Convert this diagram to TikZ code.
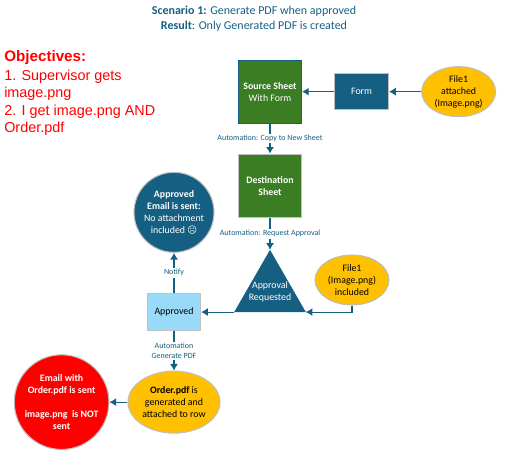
\documentclass[tikz,border=0pt]{standalone}
\usepackage{fontspec}
\setmainfont{Carlito}
\newfontfamily\arialfont{Liberation Sans}
\newfontfamily\symfont{DejaVu Sans}
\usetikzlibrary{arrows.meta,positioning,shapes.geometric}
\definecolor{navy}{HTML}{156082}
\definecolor{leaf}{HTML}{3B7D23}
\definecolor{sky}{HTML}{99DAF8}
\definecolor{amber}{HTML}{FFC000}
\definecolor{alert}{HTML}{FF0000}
\definecolor{edge}{HTML}{BFBFBF}
\tikzset{
  base/.style={draw=edge,line width=.8pt,align=center,inner sep=0pt,font=\fontsize{7.4}{9}\selectfont},
  sheet/.style={base,fill=leaf,text=white,minimum width=47.25pt,minimum height=47.25pt,font=\fontsize{7.4}{9}\selectfont\bfseries},
  bluebox/.style={base,fill=navy,text=white,minimum width=40.5pt,minimum height=27pt},
  skybox/.style={base,fill=sky,text=black,minimum width=40pt,minimum height=28pt},
  file/.style={base,ellipse,fill=amber,text=black,minimum width=55.5pt,minimum height=37.5pt},
  round/.style={base,circle,text=white},
  arr/.style={-{Latex[length=5pt,width=6pt]},line width=.8pt,color=navy},
  tag/.style={fill=white,text=navy,inner sep=1pt,align=center,font=\fontsize{6}{7.5}\selectfont}
}

\begin{document}
\begin{tikzpicture}
  \useasboundingbox (0,0) rectangle (383.25pt,-352.5pt);
  \node[text=navy,align=center,font=\fontsize{9}{11.25}\selectfont] (title) at (190.5pt,-14pt)
    {\textbf{Scenario 1:} Generate PDF when approved\\\textbf{Result}: Only Generated PDF is created};
  \node[text=alert,align=left,anchor=north west,inner sep=0pt,font=\arialfont\fontsize{10.8}{12.9}\selectfont] (goals) at (3pt,-38pt)
    {{\fontsize{11.4}{12.9}\selectfont\textbf{Objectives:}}\\[1.2pt]1. Supervisor gets\\image.png\\2. I get image.png AND\\Order.pdf};
  % top row
  \node[sheet,draw=navy] (source) at (202.5pt,-68.75pt) {Source Sheet\\\mdseries With Form};
  \node[bluebox,right=24pt of source] (form) {Form};
  \node[file,right=24pt of form] (file1) {File1\\attached\\(Image.png)};
  \node[sheet,below=22.5pt of source] (dest) {Destination\\Sheet};
  % approval
  \node[isosceles triangle,isosceles triangle stretches,shape border rotate=90,fill=navy,draw=navy,
    minimum width=53pt,minimum height=46pt,inner sep=0pt,below=24pt of dest] (request) {};
  \node[text=white,align=center,inner sep=0pt,font=\fontsize{7.4}{9}\selectfont] (requesttext) at ([yshift=15pt]request.south) {Approval\\Requested};
  \node[file,at={(264pt,-210pt)}] (file2) {File1\\(Image.png)\\included};
  \node[skybox,left=24.75pt of request.left corner] (approved) {Approved};
  \node[round,fill=navy,minimum size=60pt,above=30pt of approved] (mail) {\textbf{Approved}\\\textbf{Email is sent:}\\No attachment\\included {\symfont\fontsize{7}{9}\selectfont ☹}};
  % generated pdf
  \node[file,minimum width=69pt,minimum height=46.5pt,below=29.5pt of approved] (order) {\textbf{Order.pdf} is\\generated and\\attached to row};
  \node[round,fill=alert,minimum size=71pt,left=13.5pt of order,font=\fontsize{7.4}{9}\selectfont\bfseries] (redmail) {Email with\\Order.pdf is sent\\[9pt]image.png\ \ is NOT\\sent};
  % connectors
  \draw[arr] (file1)--(form);
  \draw[arr] (form)--(source);
  \draw[arr] (source)--node[tag]{Automation: Copy to New Sheet} (dest);
  \draw[arr] (dest)--node[tag]{Automation: Request Approval} (request.apex);
  \draw[arr] (file2.south)|-(request.right corner);
  \draw[arr] (request.left corner)--(approved);
  \draw[arr] (approved)--node[tag]{Notify} (mail);
  \draw[arr] (approved)--node[tag]{Automation\\Generate PDF} (order);
  \draw[arr] (order)--(redmail);
\end{tikzpicture}
\end{document}
